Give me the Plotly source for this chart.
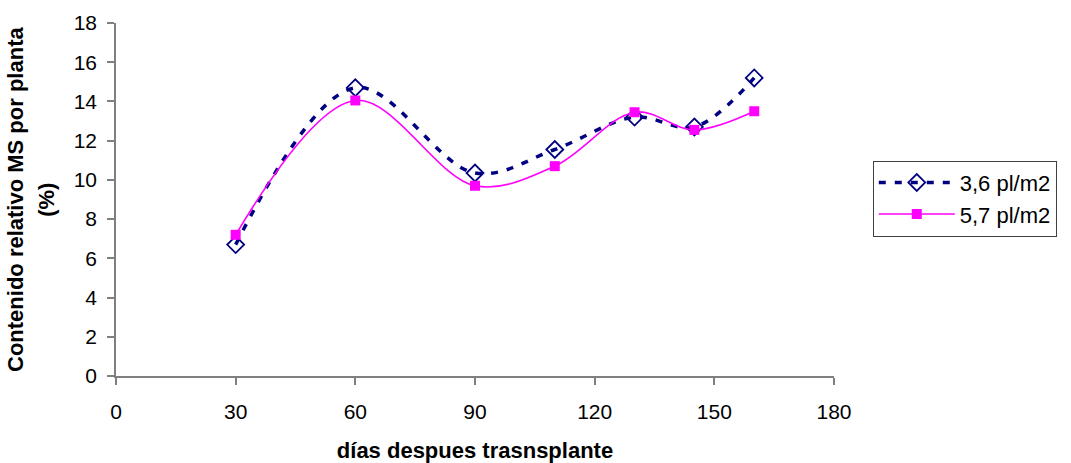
import plotly.graph_objects as go

# days after transplant
dias = [30, 60, 90, 110, 130, 145, 160]
# relative dry-matter content per plant (%)
serie_36 = [6.7, 14.7, 10.35, 11.55, 13.2, 12.7, 15.2]
serie_57 = [7.2, 14.05, 9.7, 10.7, 13.45, 12.55, 13.5]
nombres = ["3,6 pl/m2", "5,7 pl/m2"]

x_ticks = [0, 30, 60, 90, 120, 150, 180]
y_ticks = [0, 2, 4, 6, 8, 10, 12, 14, 16, 18]

FONT = "Arial, Liberation Sans, sans-serif"
AXIS_GREY = "#808080"

fig = go.Figure()
fig.add_trace(go.Scatter(
    x=dias, y=serie_36, name=nombres[0], mode="lines+markers",
    line=dict(color="#000080", width=3.5, dash="7px,9px", shape="spline", smoothing=1),
    marker=dict(symbol="diamond-open", size=13, color="#000080", line=dict(width=1.8, color="#000080")),
))
fig.add_trace(go.Scatter(
    x=dias, y=serie_57, name=nombres[1], mode="lines+markers",
    line=dict(color="#FF00FF", width=1.6, shape="spline", smoothing=1),
    marker=dict(symbol="square", size=10, color="#FF00FF"),
))

fig.update_layout(
    width=1071, height=463,
    margin=dict(l=116, r=237, t=23, b=87),
    paper_bgcolor="white", plot_bgcolor="white",
    font=dict(family=FONT, size=21, color="black"),
    showlegend=True,
    legend=dict(
        x=1.054, y=0.61, xanchor="left", yanchor="top",
        bordercolor="#404040", borderwidth=1, bgcolor="white",
        font=dict(size=22), tracegroupgap=4, itemwidth=76,
    ),
    xaxis=dict(
        range=[0, 180], tickvals=x_ticks, ticktext=[str(v) for v in x_ticks],
        showgrid=False, zeroline=False, showline=True, linecolor=AXIS_GREY, linewidth=1.5,
        ticks="outside", ticklen=7, tickcolor=AXIS_GREY, tickwidth=1.5,
        ticklabelstandoff=9, tickfont=dict(size=21), automargin=False,
        title=dict(text="<b>días despues trasnsplante</b>", font=dict(size=22), standoff=22),
    ),
    yaxis=dict(
        range=[0, 18], tickvals=y_ticks, ticktext=[str(v) for v in y_ticks],
        showgrid=False, zeroline=False, showline=True, linecolor=AXIS_GREY, linewidth=1.5,
        ticks="outside", ticklen=7, tickcolor=AXIS_GREY, tickwidth=1.5,
        ticklabelstandoff=6, tickfont=dict(size=21), automargin=False,
    ),
    annotations=[
        dict(text="<b>Contenido relativo MS por planta</b>", textangle=-90,
             xref="paper", yref="paper", x=-0.14, y=0.5, xanchor="center", yanchor="middle",
             showarrow=False, font=dict(size=22)),
        dict(text="<b>(%)</b>", textangle=-90,
             xref="paper", yref="paper", x=-0.097, y=0.5, xanchor="center", yanchor="middle",
             showarrow=False, font=dict(size=22)),
    ],
)

fig.write_html("out.html")
